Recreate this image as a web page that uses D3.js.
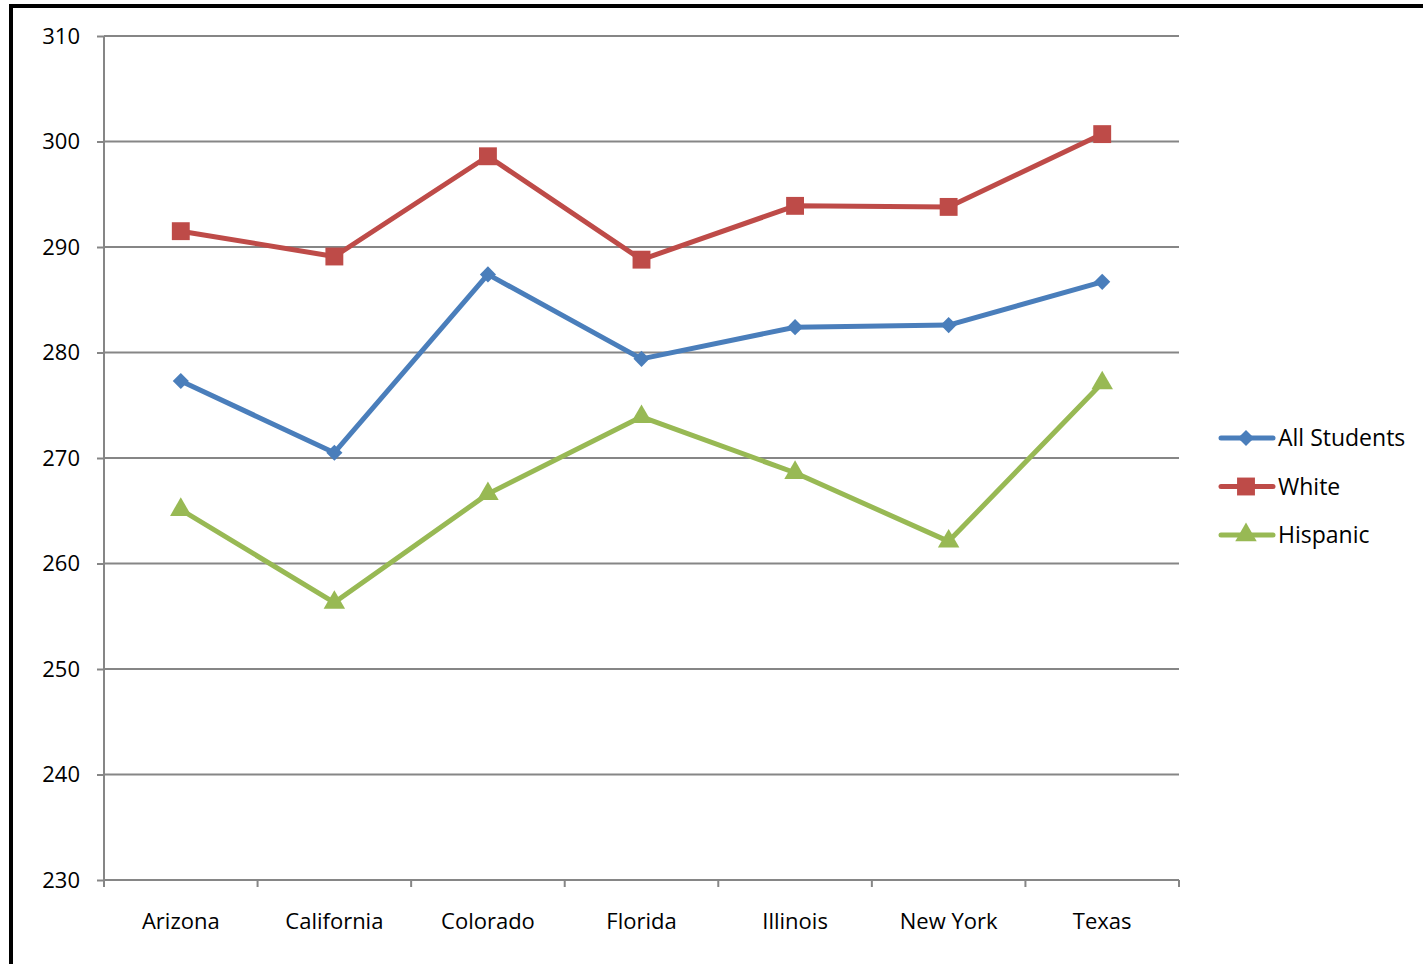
<!DOCTYPE html>
<html><head><meta charset="utf-8">
<script src="https://cdn.jsdelivr.net/npm/d3@7"></script>
<style>body{margin:0;background:#fff}svg{display:block}text{font-family:"Open Sans","Noto Sans",sans-serif;fill:#000}</style>
</head><body>
<svg id="c" width="1423" height="964"></svg>
<script>
const categories = ["Arizona","California","Colorado","Florida","Illinois","New York","Texas"];
const allStudents = [277.3, 270.5, 287.4, 279.4, 282.4, 282.6, 286.7];
const white = [291.5, 289.1, 298.6, 288.8, 293.9, 293.8, 300.7];
const hispanic = [265.1, 256.3, 266.6, 273.9, 268.6, 262.1, 277.1];
const yTicks = [230,240,250,260,270,280,290,300,310];
const seriesNames = ["All Students","White","Hispanic"];

const diamond = {draw(ctx, size){ const r = Math.sqrt(size/2); ctx.moveTo(0,-r); ctx.lineTo(r,0); ctx.lineTo(0,r); ctx.lineTo(-r,0); ctx.closePath(); }};

const series = [
  {name: seriesNames[0], values: allStudents, color: "#4a7ebb", shape: diamond, size: 130},
  {name: seriesNames[1], values: white, color: "#be4b48", shape: d3.symbolSquare, size: 320},
  {name: seriesNames[2], values: hispanic, color: "#98b954", shape: d3.symbolTriangle, size: 200}
];

const svg = d3.select("#c");
svg.append("path").attr("d","M11,964 V6 H1423").attr("fill","none").attr("stroke","#000").attr("stroke-width",4);

const x0 = 104, x1 = 1179, yTop = 36, yBot = 880;
const x = d3.scaleBand().domain(categories).range([x0, x1]);
const y = d3.scaleLinear().domain([230,310]).range([yBot, yTop]);

svg.append("g").selectAll("line").data(yTicks.filter(t=>t>230)).join("line")
  .attr("x1", x0).attr("x2", x1).attr("y1", d=>y(d)).attr("y2", d=>y(d))
  .attr("stroke","#868686").attr("stroke-width",2);

const ya = svg.append("g").attr("transform",`translate(${x0},0)`)
  .call(d3.axisLeft(y).tickValues(yTicks).tickSize(7).tickPadding(17));
ya.select(".domain").attr("stroke","#868686").attr("stroke-width",2).attr("d",`M0,${yTop}V${yBot}`);
ya.selectAll(".tick line").attr("stroke","#868686").attr("stroke-width",2);
ya.selectAll(".tick text").style("font-size","22px").attr("fill","#000");

const xa = svg.append("g").attr("transform",`translate(0,${yBot})`)
  .call(d3.axisBottom(x).tickSize(0).tickPadding(33));
xa.select(".domain").attr("stroke","#868686").attr("stroke-width",2).attr("d",`M${x0},0H${x1}`);
xa.selectAll(".tick text").style("font-size","22px").attr("fill","#000");
const bounds = categories.map(c=>x(c)).concat([x1]);
xa.append("g").selectAll("line").data(bounds).join("line")
  .attr("x1",d=>d).attr("x2",d=>d).attr("y1",0).attr("y2",7)
  .attr("stroke","#868686").attr("stroke-width",2);

const cx = c => x(c) + x.bandwidth()/2;
const line = d3.line().x((d,i)=>cx(categories[i])).y(d=>y(d));

series.forEach(s=>{
  svg.append("path").datum(s.values).attr("d", line).attr("fill","none")
    .attr("stroke", s.color).attr("stroke-width",5).attr("stroke-linejoin","round").attr("stroke-linecap","round");
  svg.append("g").selectAll("path").data(s.values).join("path")
    .attr("transform",(d,i)=>`translate(${cx(categories[i])},${y(d)})`)
    .attr("d", d3.symbol().type(s.shape).size(s.size)).attr("fill", s.color);
});

const lg = svg.append("g");
series.forEach((s,i)=>{
  const ly = 438 + i*48.5;
  lg.append("line").attr("x1",1221).attr("x2",1273).attr("y1",ly).attr("y2",ly)
    .attr("stroke",s.color).attr("stroke-width",5).attr("stroke-linecap","round");
  lg.append("path").attr("transform",`translate(1246,${ly})`)
    .attr("d", d3.symbol().type(s.shape).size(s.size)).attr("fill",s.color);
  lg.append("text").attr("x",1278).attr("y",ly).attr("dy","0.35em").style("font-size","23px").text(s.name);
});
</script>
</body></html>
